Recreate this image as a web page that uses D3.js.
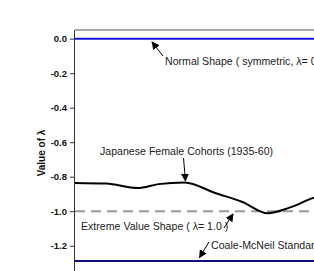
<!DOCTYPE html>
<meta charset="utf-8">
<style>
body { margin: 0; background: #fff; }
svg { display: block; }
.tick text { font: bold 9.5px Arial, "Liberation Sans", sans-serif; fill: #111; }
.note { font: 10.6px Arial, "Liberation Sans", sans-serif; fill: #222; }
.ytitle { font: bold 10px Arial, "Liberation Sans", sans-serif; fill: #111; }
</style>
<body>
<script src="https://cdn.jsdelivr.net/npm/d3@7"></script>
<script>

// ages (x) and lambda values for the Japanese female cohorts curve
var ages = [15, 18, 21, 23, 25.5, 28.5, 31, 33.5, 35.5, 38, 40.5, 43]
var cohortLambda = [-0.836, -0.84, -0.866, -0.843, -0.833, -0.896, -0.945, -1.012, -0.981, -0.921, -0.9, -0.91]

var normalLambda = 0.0
var extremeLambda = -1.0
var coaleLambda = -1.289

var yTicks = [0.0, -0.2, -0.4, -0.6, -0.8, -1.0, -1.2]

var width = 314,
    height = 271;

var svg = d3.select("body").append("svg")
    .attr("width", width)
    .attr("height", height);

var defs = svg.append("defs")
defs.append("marker")
    .attr("id", "head")
    .attr("viewBox", "0 0 10 10")
    .attr("refX", 9).attr("refY", 5)
    .attr("markerWidth", 8).attr("markerHeight", 8)
    .attr("markerUnits", "userSpaceOnUse")
    .attr("orient", "auto")
  .append("path")
    .attr("d", "M0,0 L10,5 L0,10 z")
    .attr("fill", "#000");

var x = d3.scaleLinear().domain([15, 50]).range([75, 440]);
var y = d3.scaleLinear().domain([0.0, -1.0]).range([38.7, 211.2]);

// top border
svg.append("line")
    .attr("x1", 75).attr("x2", width)
    .attr("y1", y(0.05)).attr("y2", y(0.05))
    .attr("stroke", "#888").attr("stroke-width", 1.5);

// y axis (plain hyphen for minus, like the original)
var yAxis = svg.append("g")
    .attr("transform", "translate(75,0)")
    .call(d3.axisLeft(y).tickValues(yTicks)
      .tickFormat(function(d) { return d.toFixed(1).replace("\u2212", "-"); })
      .tickSize(5).tickPadding(3));
yAxis.select(".domain").attr("d", "M-0.5," + y(0.05) + "V" + height).attr("stroke", "#333");
yAxis.selectAll(".tick line").attr("stroke", "#333");

svg.append("text")
    .attr("class", "ytitle")
    .attr("transform", "translate(45," + 153 + ") rotate(-90)")
    .attr("text-anchor", "middle")
    .text("Value of \u03bb");

// reference lines
function hline(v, color, dash) {
  svg.append("line")
      .attr("x1", 75).attr("x2", width)
      .attr("y1", y(v)).attr("y2", y(v))
      .attr("stroke", color).attr("stroke-width", 2)
      .attr("stroke-dasharray", dash || null);
}
hline(normalLambda, "#1515e0");
hline(extremeLambda, "#999", "10,6");
hline(coaleLambda, "#10107a");

var line = d3.line()
    .x(function(d, i) { return x(ages[i]); })
    .y(function(d) { return y(d); })
    .curve(d3.curveMonotoneX);

svg.append("path")
    .datum(cohortLambda)
    .attr("fill", "none")
    .attr("stroke", "#000")
    .attr("stroke-width", 2)
    .attr("d", line);

// annotations
var notes = [
  {text: "Normal Shape ( symmetric, \u03bb= 0.0 )", tx: 165, ty: 64.5, a: [163, 56, 152, 42]},
  {text: "Japanese Female Cohorts (1935-60)", tx: 100, ty: 154.5, a: [183.5, 158, 185.5, 181]},
  {text: "Extreme Value Shape ( \u03bb= 1.0 )", tx: 81, ty: 229.5, a: [224, 228, 233, 214]},
  {text: "Coale-McNeil Standard", tx: 211, ty: 248.5, a: [209, 242, 199.5, 257.5]}
]

notes.forEach(function(n) {
  svg.append("text")
      .attr("class", "note")
      .attr("x", n.tx).attr("y", n.ty)
      .text(n.text);
  svg.append("line")
      .attr("x1", n.a[0]).attr("y1", n.a[1])
      .attr("x2", n.a[2]).attr("y2", n.a[3])
      .attr("stroke", "#000").attr("stroke-width", 1)
      .attr("marker-end", "url(#head)");
})
</script>
</body>
</html>
